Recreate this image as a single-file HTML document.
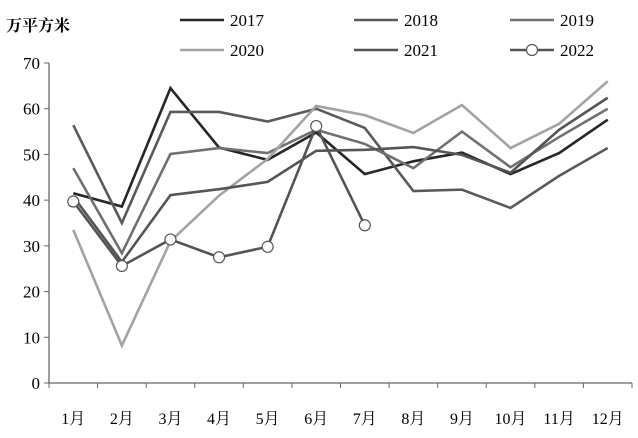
<!DOCTYPE html>
<html><head><meta charset="utf-8"><style>
body{margin:0;background:#fff}
svg text{font-family:"Liberation Serif","Noto Serif CJK SC",serif;fill:#000}
</style></head><body>
<svg id="c" width="638" height="433" xmlns="http://www.w3.org/2000/svg">
<text x="6" y="31" font-size="16" font-weight="bold">万平方米</text>
<g id="axes"></g><g id="series"></g><g id="legend"></g>
</svg>
<script>
const categories=["1月","2月","3月","4月","5月","6月","7月","8月","9月","10月","11月","12月"];
const yTicks=[0,10,20,30,40,50,60,70];
const years=["2017","2018","2019","2020","2021","2022"];
const s2017=[41.5,38.6,64.5,51.5,48.8,54.8,45.7,48.5,50.4,45.7,50.3,57.6];
const s2018=[56.4,35,59.3,59.3,57.2,60,55.8,42,42.3,38.3,45.3,51.4];
const s2019=[47,28.4,50.1,51.4,50.3,55.4,52.3,47,55,47.2,53.8,60];
const s2020=[33.5,8.2,31,41,49,60.6,58.6,54.7,60.8,51.4,56.7,66];
const s2021=[40.8,26.5,41.1,42.4,44,50.8,51,51.6,49.9,46,55.4,62.4];
const s2022=[39.7,25.6,31.4,27.5,29.8,56.2,34.5];
const colors=["#262626","#5a5a5a","#707070","#a3a3a3","#555555","#555555"];
const NS="http://www.w3.org/2000/svg";
const x0=49,x1=632,y0=383,y1=63;
const bw=(x1-x0)/categories.length;
const X=i=>x0+bw*(i+0.5);
const Y=v=>y0-(v/70)*(y0-y1);
function mk(t,a,p){const e=document.createElementNS(NS,t);for(const k in a)e.setAttribute(k,a[k]);p.appendChild(e);return e;}
const ax=document.getElementById('axes');
let e=mk('line',{x1:x0,y1:y0,x2:x0,y2:y1,stroke:'#666','stroke-width':1.3},ax);

e=mk('line',{x1:x0,y1:y0,x2:x1,y2:y0,stroke:'#666','stroke-width':1.3},ax);

yTicks.forEach(v=>{mk('line',{x1:x0-5,y1:Y(v),x2:x0,y2:Y(v),stroke:'#666'},ax);
 const t=mk('text',{x:x0-9,y:Y(v)+6,'text-anchor':'end','font-size':17},ax);t.textContent=v;
 });
for(let i=0;i<=categories.length;i++)mk('line',{x1:x0+bw*i,y1:y0,x2:x0+bw*i,y2:y0+5,stroke:'#666'},ax);
categories.forEach((c,i)=>{const t=mk('text',{x:X(i),y:424,'text-anchor':'middle','font-size':16},ax);t.textContent=c;
 });
const data=[s2017,s2018,s2019,s2020,s2021,s2022];
const sg=document.getElementById('series');
data.forEach((d,k)=>{const p=mk('polyline',{points:d.map((v,i)=>X(i)+','+Y(v)).join(' '),fill:'none',stroke:colors[k],'stroke-width':2.6,'stroke-linejoin':'miter'},sg);
 
 if(k==5)d.forEach((v,i)=>{const c=mk('circle',{cx:X(i),cy:Y(v),r:5.5,fill:'#fff',stroke:'#555','stroke-width':1.2},sg);
  });});
const lg=document.getElementById('legend');
const lpos=[[180,20],[354,20],[510,20],[180,50],[354,50],[510,50]];
years.forEach((y,k)=>{const [lx,ly]=lpos[k];
 const g=mk('g',{},lg);
 mk('line',{x1:lx,y1:ly,x2:lx+44,y2:ly,stroke:colors[k],'stroke-width':2.6},g);
 if(k==5)mk('circle',{cx:lx+22,cy:ly,r:5.5,fill:'#fff',stroke:'#555','stroke-width':1.2},g);
 const t=mk('text',{x:lx+50,y:ly+6,'font-size':17},g);t.textContent=y;});
</script>
</body></html>
